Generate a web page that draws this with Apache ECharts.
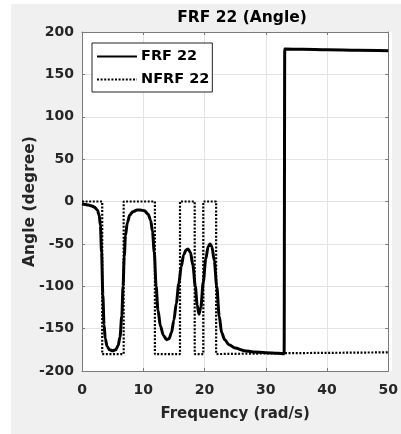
<!DOCTYPE html>
<html>
<head>
<meta charset="utf-8">
<script src="https://cdn.jsdelivr.net/npm/echarts@6/dist/echarts.min.js"></script>
<style>
html,body{margin:0;padding:0;background:#ffffff;}
#bg{position:absolute;left:11px;top:4px;width:390px;height:430px;background:#f0f0f0;}
#chart{position:absolute;left:0;top:0;width:401px;height:434px;}
</style>
</head>
<body>
<div id="bg"></div>
<div id="chart"></div>
<script>
const titleText = 'FRF 22 (Angle)';
const xName = 'Frequency (rad/s)';
const yName = 'Angle (degree)';
const seriesNames = ['FRF 22', 'NFRF 22'];
const xTicks = [0, 10, 20, 30, 40, 50];
const yTicks = [-200, -150, -100, -50, 0, 50, 100, 150, 200];

// FRF 22: [frequency, angle]
const frf22 = [
  [0,-3],[0.5,-3.5],[1,-4],[1.5,-5],[2,-6.5],[2.5,-10],[2.8,-16],[3.0,-28],[3.2,-60],
  [3.4,-110],[3.6,-145],[3.8,-162],[4.1,-171],[4.5,-175],[5.0,-176],[5.5,-175],[5.9,-170],
  [6.2,-160],[6.5,-135],[6.7,-100],[6.9,-65],[7.1,-40],[7.4,-25],[7.8,-16],[8.3,-12],
  [9.0,-10],[9.5,-10],[10.2,-11],[10.8,-15],[11.2,-22],[11.5,-35],[11.8,-60],[12.1,-100],
  [12.4,-128],[12.8,-147],[13.3,-158],[13.8,-163],[14.2,-162],[14.6,-155],[15.0,-140],
  [15.4,-120],[15.8,-97],[16.2,-77],[16.6,-63],[17.0,-57],[17.3,-56],[17.7,-60],[18.1,-75],
  [18.5,-100],[18.8,-122],[19.1,-133],[19.4,-125],[19.8,-95],[20.2,-68],[20.6,-53],[20.9,-50],
  [21.2,-53],[21.6,-70],[22.0,-100],[22.4,-135],[22.8,-155],[23.3,-163],[24.0,-169],
  [25.0,-173],[26.5,-176],[28.0,-177.5],[30.0,-178.5],[32.0,-179],[33.0,-179.5],
  [33.1,180],[36,179.5],[40,179],[45,178.5],[50,178]
];

// NFRF 22: [frequency, angle]
const nfrf22 = [
  [0,0],[3.3,0],[3.3,-180],[6.8,-180],[6.8,0],[11.9,0],[11.9,-180],[16.0,-180],[16.0,0],
  [18.4,0],[18.4,-180],[19.8,-180],[19.8,0],[21.9,0],[21.9,-180],[33,-179],[50,-178]
];

const FONT = 'DejaVu Sans';
const TXT = '#262626';
const BORDER = '#7a7a7a';

const chart = echarts.init(document.getElementById('chart'), null, {renderer:'canvas'});
chart.setOption({
  backgroundColor: 'transparent',
  animation: false,
  title: {
    text: titleText, left: 237, top: 5, textAlign: 'center',
    textStyle: {fontFamily: FONT, fontWeight: 'bold', fontSize: 15.5, color: '#000'}
  },
  legend: {
    orient: 'vertical', left: 92, top: 43,
    padding: [6, 3, 5, 4], itemGap: 8, itemWidth: 40, itemHeight: 14,
    backgroundColor: '#ffffff', borderColor: '#222', borderWidth: 1, borderRadius: 0,
    itemStyle: {opacity: 0},
    textStyle: {fontFamily: FONT, fontWeight: 'bold', fontSize: 14.5, color: '#000', padding: [0,0,0,-1]},
    data: seriesNames
  },
  grid: {left: 82, right: 9, top: 32, bottom: 63, containLabel: false},
  xAxis: [{
    type: 'value', min: xTicks[0], max: xTicks[xTicks.length-1], interval: 10,
    name: xName, nameLocation: 'middle', nameGap: 36, nameMoveOverlap: false,
    nameTextStyle: {fontFamily: FONT, fontWeight: 'bold', fontSize: 15, color: TXT},
    axisLine: {show: true, onZero: false, lineStyle: {color: BORDER, width: 1}},
    axisTick: {show: true, inside: true, length: 3, lineStyle: {color: BORDER}},
    axisLabel: {margin: 12, fontFamily: FONT, fontWeight: 'bold', fontSize: 14, color: TXT},
    splitLine: {show: true, lineStyle: {color: '#e3e3e3', width: 1}}
  },{
    type: 'value', position: 'top', min: xTicks[0], max: xTicks[xTicks.length-1], interval: 10,
    axisLine: {show: true, onZero: false, lineStyle: {color: BORDER, width: 1}},
    axisTick: {show: true, inside: true, length: 3, lineStyle: {color: BORDER}},
    axisLabel: {show: false}, splitLine: {show: false}
  }],
  yAxis: [{
    type: 'value', min: yTicks[0], max: yTicks[yTicks.length-1], interval: 50,
    name: yName, nameLocation: 'middle', nameGap: 44, nameRotate: 90, nameMoveOverlap: false,
    nameTextStyle: {fontFamily: FONT, fontWeight: 'bold', fontSize: 15.5, color: TXT},
    axisLine: {show: true, onZero: false, lineStyle: {color: BORDER, width: 1}},
    axisTick: {show: true, inside: true, length: 3, lineStyle: {color: BORDER}},
    axisLabel: {margin: 8, fontFamily: FONT, fontWeight: 'bold', fontSize: 14, color: TXT},
    splitLine: {show: true, lineStyle: {color: '#e3e3e3', width: 1}}
  },{
    type: 'value', position: 'right', min: yTicks[0], max: yTicks[yTicks.length-1], interval: 50,
    axisLine: {show: true, onZero: false, lineStyle: {color: BORDER, width: 1}},
    axisTick: {show: true, inside: true, length: 3, lineStyle: {color: BORDER}},
    axisLabel: {show: false}, splitLine: {show: false}
  }],
  graphic: [{
    type: 'rect', left: 82, top: 32, shape: {width: 310, height: 339}, z: -10, silent: true,
    style: {fill: '#ffffff'}
  }],
  series: [{
    name: seriesNames[0], type: 'line', data: frf22, showSymbol: false, symbol: 'none',
    smooth: 0.3, smoothMonotone: 'x',
    lineStyle: {color: '#000', width: 3, type: 'solid'}, itemStyle: {color: '#000'}, z: 3
  },{
    name: seriesNames[1], type: 'line', data: nfrf22, showSymbol: false, symbol: 'none',
    lineStyle: {color: '#000', width: 2.2, type: [2, 1.6]}, itemStyle: {color: '#000'}, z: 2
  }]
});
</script>
</body>
</html>
